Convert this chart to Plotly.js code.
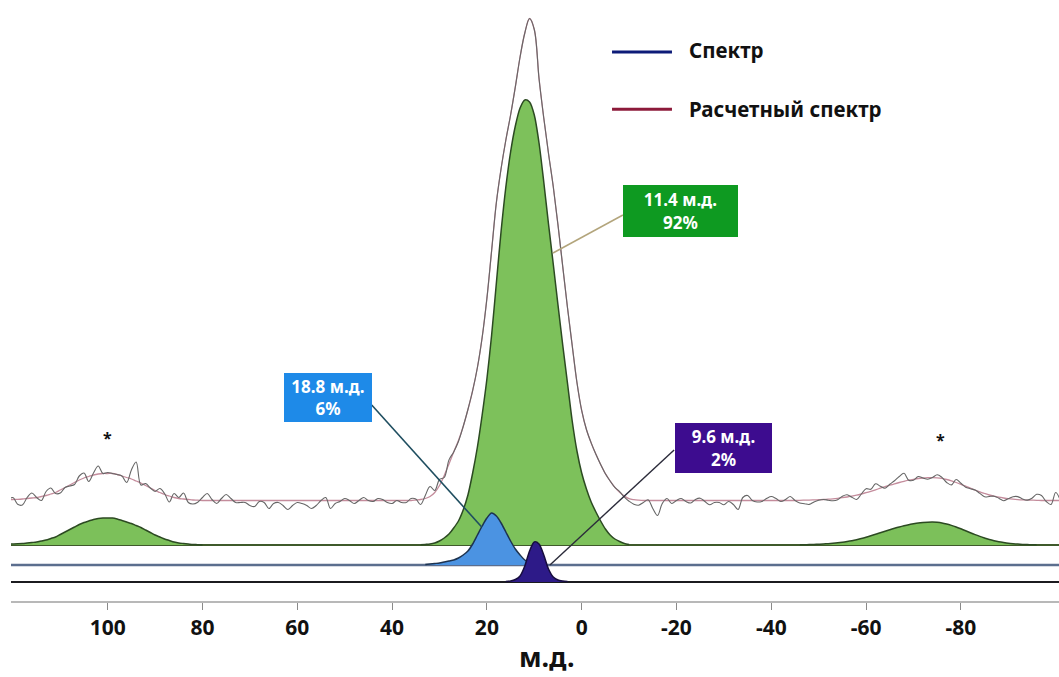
<!DOCTYPE html>
<html>
<head>
<meta charset="utf-8">
<script src="https://cdn.plot.ly/plotly-3.0.1.min.js"></script>
<style>
  html, body { margin: 0; padding: 0; background: #ffffff; }
  #chart { width: 1059px; height: 677px; }
</style>
</head>
<body>
<div id="chart"></div>
<script>
// ---------- DATA ----------
// chemical-shift axis ticks
const tickVals = [100, 80, 60, 40, 20, 0, -20, -40, -60, -80];
const tickText = ['100', '80', '60', '40', '20', '0', '-20', '-40', '-60', '-80'];

// spectrum sampled every 1 ppm from gridStart down to gridEnd
const gridStart = 121;
const gridEnd = -101;

// fitted components: first ppm of each list, then intensities every 1 ppm going down
const mainPeakStart = 34;   // 11.4 ppm, 92 %
const mainPeak = [0.3, 0.6, 1, 2, 4, 7, 11, 17, 24, 35, 50, 72, 98, 130, 166, 210, 262, 314, 358, 393,
                  419, 437, 445, 443, 430, 402, 363, 321, 281, 240, 200, 162, 124, 94, 72, 56, 43, 33, 24, 16,
                  10, 6, 3.5, 1.5, 0.5];
const bluePeakStart = 33;   // 18.8 ppm, 6 %
const bluePeak = [0.5, 1, 1.5, 2, 3, 4, 5, 7, 10, 14, 21, 30, 39, 47, 52, 49, 42, 33, 24, 16,
                  10, 5, 2.5, 1, 0.5];
const purplePeakStart = 16; // 9.6 ppm, 2 %
const purplePeak = [0.5, 1, 2.5, 6, 16, 31, 40, 38, 27, 13, 5, 2, 1, 0.5];
const leftSidebandStart = 121;
const leftSideband = [0.8, 1.0, 1.2, 1.5, 2, 2.5, 3, 4, 5, 6.5,
                      8, 10.5, 13, 15.5, 18, 20.5, 22.5, 24, 25.5, 26.5,
                      27, 27, 27, 26, 24.5, 23, 21.5, 19.5, 17.5, 15,
                      12.5, 10, 8, 6, 4.5, 3, 2, 1.5, 1, 0.5,
                      0.3, 0];
const rightSidebandStart = -46;
const rightSideband = [0.2, 0.3, 0.4, 0.6, 0.8, 1, 1.3, 1.7, 2.2, 2.8,
                       3.5, 4.3, 5.3, 6.5, 7.8, 9.2, 10.7, 12.3, 13.8, 15.3,
                       16.7, 18, 19.2, 20.3, 21.2, 22, 22.5, 22.8, 22.9, 22.7,
                       22.1, 21, 19.6, 18, 16.2, 14.3, 12.3, 10.4, 8.6, 7,
                       5.5, 4.3, 3.3, 2.5, 1.8, 1.3, 0.9, 0.6, 0.4, 0.3,
                       0.2];

// envelope of the calculated spectrum around the central line, 36 .. -13 ppm
const envelopeStart = 36;
const envelope = [0, 0.5, 1, 2, 4, 8, 15, 25, 36.6, 48.6,
                  60, 74, 91, 110, 133, 163, 202, 250, 298, 332,
                  360.5, 385.5, 413.6, 443.5, 467.5, 482, 471, 422, 382.5, 347,
                  314, 275.5, 234, 193, 155, 118, 90, 71, 57.6, 46.2,
                  36, 26.8, 19.5, 13.1, 8.2, 4.4, 1.8, 0.8, 0.3, 0];

// measured spectrum minus calculated spectrum (noise), 121 .. -101 ppm
const residual = [
  0, 2, -5, -6, 1, 5, 0, -4, 4, 6,
  -1, -3, 0, -1, -2, 4, 5, -5, 2, 8,
  0, 1, 0, 0, 0, -5, 9, 19, -2, 2,
  0, -1, 4, 1, -6, 4, 1, 6, -3, -4,
  -2, 3, 7, 1, -3, 2, 6, 2, -2, -2,
  -2, -5, -6, -1, -2, -8, -3, -2, -5, -9,
  -5, -2, -3, -5, -8, -5, 0, 3, -8, -3,
  -1, 2, 0, -3, 0, 3, 0, -1, 2, 1,
  -2, -3, 0, -2, -2, 2, 1, -5, 3, 10,
  2, 6, -2, 4, 0, -1, 0,
  0, 0, 0, 0, 0, 0, 0, 0, 0, 0, 0, 0, 0, 0, 0, 0,
  0, 0, 0, 0, 0, 0, 0, 0, 0, 0, 0, 0, 0, 0, 0, 0,
  0.7, -1, -2.5, -4.5, -5, -2, 0.7, -8, -15, -3,
  2, -3, 0, 2, -1, -2.5, 1, 2.3, -1, -4.3,
  -2, -2, -4.3, -1, -4, -9, 3, 5, 0, -1.5,
  -1, 2, 4, 2, -1, 1, 4, 0, -2.7, -3.5,
  -4.3, -2, -0.5, 0, -1, -2, -1.5, 1.5, 2.3, -1,
  -4.3, 0, 4, 2, 6, 2, -1.5, 1, 3, 6,
  8, 0, -1, 2, 0, -1.5, 0, 3, 1, -3,
  -4, 3, 1, -1, -0.5, 0, -1.5, -3.3, -1.5, 0,
  -1, -2.7, 0, 2.5, 3, 1, 0, 2, 6, 5,
  -1, -4, 8, 0
];

// labels
const peakLabels = ['11.4 м.д.<br>92%', '18.8 м.д.<br>6%', '9.6 м.д.<br>2%'];
const legendNames = ['Спектр', 'Расчетный спектр'];
const axisTitle = 'м.д.';

// ---------- LAYOUT CONSTANTS (positions / styles) ----------
const BASE_GREEN = 56;    // vertical offsets of the stacked traces
const BASE_BLUE = 36;
const BASE_PURPLE = 19;
const BASE_SPEC = 100.5;

const ppmGrid = [];
for (let p = gridStart; p >= gridEnd; p--) ppmGrid.push(p);

function onGrid(start, vals) {
  return ppmGrid.map(p => {
    const i = start - p;
    return (i >= 0 && i < vals.length) ? vals[i] : 0;
  });
}
function supportX(start, vals) { return vals.map((v, i) => start - i); }

const specParts = [onGrid(envelopeStart, envelope), onGrid(leftSidebandStart, leftSideband),
                   onGrid(rightSidebandStart, rightSideband)];
const fitted = ppmGrid.map((p, i) => BASE_SPEC + specParts.reduce((s, g) => s + g[i], 0));
const measured = fitted.map((v, i) => v + residual[i]);

const traces = [];
function baseline(y, color, width) {
  traces.push({ x: [gridStart, gridEnd], y: [y, y], mode: 'lines', line: { color: color, width: width },
                hoverinfo: 'skip', showlegend: false });
}
function filledPeak(start, vals, base, fill, edge) {
  const xs = supportX(start, vals);
  traces.push({ x: xs, y: vals.map(() => base), mode: 'lines', line: { width: 0, color: 'rgba(0,0,0,0)' },
                hoverinfo: 'skip', showlegend: false });
  traces.push({ x: xs, y: vals.map(v => base + v), mode: 'lines', fill: 'tonexty', fillcolor: fill,
                line: { color: edge, width: 1.5, shape: 'spline', smoothing: 0.8 }, showlegend: false });
}

baseline(BASE_PURPLE, '#1b1b1f', 2);
baseline(BASE_BLUE, '#5b6e8e', 2.5);
baseline(BASE_GREEN, '#3f5a2b', 2);
filledPeak(leftSidebandStart, leftSideband, BASE_GREEN, '#7cc05a', '#2c4a22');
filledPeak(rightSidebandStart, rightSideband, BASE_GREEN, '#7cc05a', '#2c4a22');
filledPeak(mainPeakStart, mainPeak, BASE_GREEN, '#7dc15b', '#2c4a22');
filledPeak(bluePeakStart, bluePeak, BASE_BLUE, '#4b93e2', '#1d3350');
filledPeak(purplePeakStart, purplePeak, BASE_PURPLE, '#2d1a88', '#170d3e');

traces.push({ x: ppmGrid, y: fitted, mode: 'lines', name: legendNames[1],
              line: { color: '#c48c9c', width: 1.3, shape: 'spline', smoothing: 1 }, showlegend: false });
traces.push({ x: ppmGrid, y: measured, mode: 'lines', name: legendNames[0],
              line: { color: '#666666', width: 1.1, shape: 'spline', smoothing: 1 }, showlegend: false });

const boxFont = { family: 'Noto Sans, sans-serif', size: 17, color: '#ffffff', weight: 700 };
const legFont = { family: 'Noto Sans, sans-serif', size: 20.5, color: '#111111', weight: 700 };

const layout = {
  width: 1059, height: 677,
  margin: { l: 11, r: 0, t: 0, b: 76, pad: 0 },
  paper_bgcolor: '#ffffff', plot_bgcolor: '#ffffff',
  showlegend: false,
  xaxis: {
    range: [120.4, -100.7], tickmode: 'array', tickvals: tickVals, ticktext: tickText,
    showgrid: false, zeroline: false, showline: true, linecolor: '#b8b8b8', linewidth: 2,
    ticks: 'outside', ticklen: 7, tickwidth: 1, tickcolor: '#8a8a8a',
    tickfont: { family: 'Noto Sans, sans-serif', size: 21, color: '#111111', weight: 700 },
    fixedrange: true
  },
  yaxis: { range: [0, 601], visible: false, fixedrange: true },
  shapes: [
    { type: 'line', xref: 'x', yref: 'y', x0: -8.7, y0: 386, x1: 6.05, y1: 348, line: { color: '#b3a57c', width: 1.5 } },
    { type: 'line', xref: 'x', yref: 'y', x0: 44.3, y0: 196, x1: 21.1, y1: 74, line: { color: '#1f4e60', width: 1.6 } },
    { type: 'line', xref: 'x', yref: 'y', x0: -19.5, y0: 151, x1: 6.7, y1: 36, line: { color: '#2b2b3a', width: 1.4 } },
    { type: 'line', xref: 'paper', yref: 'paper', x0: 0.5735, x1: 0.6307, y0: 0.9135, y1: 0.9135, line: { color: '#0d1b78', width: 3 } },
    { type: 'line', xref: 'paper', yref: 'paper', x0: 0.5735, x1: 0.6307, y0: 0.8181, y1: 0.8181, line: { color: '#8c1a3a', width: 3 } }
  ],
  annotations: [
    { xref: 'x', yref: 'y', x: -20.9, y: 390, text: peakLabels[0], showarrow: false, bgcolor: '#0e9a21',
      width: 115, height: 52, borderpad: 0, borderwidth: 0, align: 'center', font: boxFont },
    { xref: 'x', yref: 'y', x: 53.6, y: 204, text: peakLabels[1], showarrow: false, bgcolor: '#1e8ae8',
      width: 88, height: 49, borderpad: 0, borderwidth: 0, align: 'center', font: boxFont },
    { xref: 'x', yref: 'y', x: -29.9, y: 153, text: peakLabels[2], showarrow: false, bgcolor: '#3d0c8f',
      width: 97, height: 50, borderpad: 0, borderwidth: 0, align: 'center', font: boxFont },
    { xref: 'x', yref: 'y', x: 100.1, y: 163, text: '*', showarrow: false,
      font: { family: 'Noto Sans, sans-serif', size: 16, color: '#111', weight: 700 } },
    { xref: 'x', yref: 'y', x: -75.8, y: 161, text: '*', showarrow: false,
      font: { family: 'Noto Sans, sans-serif', size: 16, color: '#111', weight: 700 } },
    { xref: 'paper', yref: 'paper', x: 0.645, y: 0.9168, xanchor: 'left', yanchor: 'middle',
      text: legendNames[0], showarrow: false, font: legFont },
    { xref: 'paper', yref: 'paper', x: 0.645, y: 0.8186, xanchor: 'left', yanchor: 'middle',
      text: legendNames[1], showarrow: false, font: legFont },
    { xref: 'x', yref: 'paper', x: 7.3, y: -0.093, xanchor: 'center', yanchor: 'middle',
      text: axisTitle, showarrow: false,
      font: { family: 'Noto Sans, sans-serif', size: 27, color: '#111', weight: 700 } }
  ]
};

Plotly.newPlot('chart', traces, layout, { displayModeBar: false, staticPlot: true });
</script>
</body>
</html>
